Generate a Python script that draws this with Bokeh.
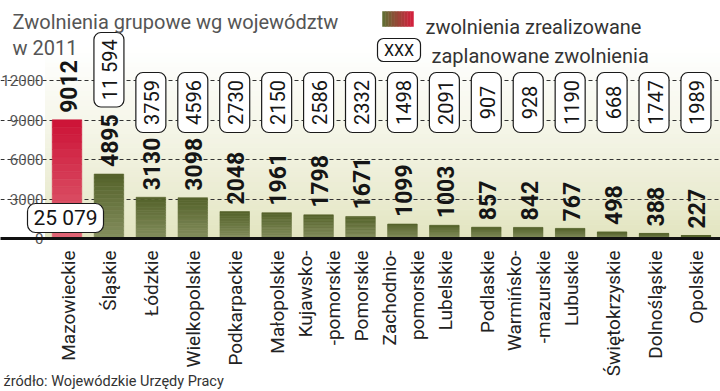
import math
from bokeh.plotting import figure
from bokeh.models import Range1d, FixedTicker, Grid
from bokeh.core.properties import value
from bokeh.embed import file_html
from bokeh.resources import INLINE

# ---------------- data ----------------
regions = ["Mazowieckie", "Śląskie", "Łódzkie", "Wielkopolskie", "Podkarpackie",
           "Małopolskie", "Kujawsko-\n-pomorskie", "Pomorskie", "Zachodnio-\npomorskie",
           "Lubelskie", "Podlaskie", "Warmińsko-\n-mazurskie", "Lubuskie",
           "Świętokrzyskie", "Dolnośląskie", "Opolskie"]
realized = [9012, 4895, 3130, 3098, 2048, 1961, 1798, 1671, 1099, 1003, 857, 842,
            767, 498, 388, 227]
planned = [25079, 11594, 3759, 4596, 2730, 2150, 2586, 2332, 1498, 2091, 907, 928,
           1190, 668, 1747, 1989]
y_ticks = [0, 3000, 6000, 9000, 12000]
grid_ticks = [3000, 6000, 9000, 12000]

title_1 = "Zwolnienia grupowe wg województw"
title_2 = "w 2011"
legend_real = "zwolnienia zrealizowane"
legend_plan = "zaplanowane zwolnienia"
legend_box = "XXX"
source_txt = "źródło: Wojewódzkie Urzędy Pracy"

# ---------------- geometry (page pixels; the page has no body margin) ----------------
W, H = 720, 391
PAGE_L, PAGE_T = 0, 0
BASE_Y = 238.0          # page y of value 0
STEP = 41.93            # px between category centres
FIRST_CENTER = 66.5     # page x of first category
PXY = 158.0 / 12000     # px per unit
BAR_W = 29.5
PLOT_L = 45.0           # left edge of plotting area (page px)

x0 = -(FIRST_CENTER - PAGE_L) / STEP
x1 = x0 + W / STEP
y0 = -(PAGE_T + H - BASE_Y) / PXY
y1 = (BASE_Y - PAGE_T) / PXY


def dx(px):
    return x0 + (px - PAGE_L) / STEP


def dy(py):
    return (BASE_Y - py) / PXY


def mix(c1, c2, t):
    return "#%02x%02x%02x" % tuple(int(round(a + (b - a) * t)) for a, b in zip(c1, c2))


def fmt(v):
    return f"{v:,}".replace(",", " ") if v >= 10000 else str(v)


SANS = "Roboto"

p = figure(width=W, height=H, output_backend="svg", toolbar_location=None,
           x_range=Range1d(x0, x1), y_range=Range1d(y0, y1),
           x_axis_location=None, y_axis_location=None,
           min_border=0)
p.outline_line_color = None
p.background_fill_color = "white"
p.border_fill_color = "white"
p.xgrid.visible = False
p.ygrid.visible = False

# ---------------- background gradient ----------------
nb = 40
bg_top = 14500
bb = [bg_top * k / nb for k in range(nb)]
bt = [bg_top * (k + 1) / nb for k in range(nb)]
bcols = [mix((225, 227, 189), (255, 255, 255), ((k + 0.5) / nb) ** 0.8) for k in range(nb)]
p.quad(left=dx(PLOT_L), right=x1, bottom=bb, top=bt, fill_color=bcols,
       line_color=bcols, level="image")

# ---------------- grid lines and baseline ----------------
grid = Grid(dimension=1, ticker=FixedTicker(ticks=grid_ticks),
            bounds=(dx(PLOT_L - 1), x1), grid_line_color="#333333",
            grid_line_dash="4 3", grid_line_width=1.2)
p.add_layout(grid)
base = Grid(dimension=1, ticker=FixedTicker(ticks=[0]), bounds=(dx(PLOT_L), dx(712)),
            grid_line_color="#111111", grid_line_width=3, level="annotation")
p.add_layout(base)

# y tick labels
p.text(x=[dx(43)] * len(y_ticks), y=y_ticks, text=[str(t) for t in y_ticks],
       text_align="right", text_baseline="middle", text_font=value(SANS),
       text_font_size="15px", text_color="#555555")

# ---------------- bars with vertical gradient ----------------
OLIVE_TOP, OLIVE_BOT = (84, 98, 42), (132, 142, 94)
RED_TOP, RED_BOT = (204, 18, 54), (224, 102, 118)
ns = 16
sx, sb, st, sc = [], [], [], []
for i, v in enumerate(realized):
    ctop, cbot = (RED_TOP, RED_BOT) if i == 0 else (OLIVE_TOP, OLIVE_BOT)
    for k in range(ns):
        sx.append(i)
        sb.append(v * k / ns)
        st.append(v * (k + 1) / ns)
        sc.append(mix(cbot, ctop, (k + 0.5) / ns))
p.vbar(x=sx, bottom=sb, top=st, width=BAR_W / STEP, fill_color=sc, line_color=sc,
       line_width=0.6)

idx = list(range(len(regions)))

# value labels
p.text(x=idx, y=realized, text=[str(v) for v in realized], angle=math.pi / 2,
       text_align="left", text_baseline="middle", y_offset=-7, x_offset=1,
       text_font=value(SANS), text_font_style="bold", text_font_size="23px",
       text_color="#151515")

# category labels
p.text(x=idx, y=[0] * len(idx), text=regions, angle=math.pi / 2,
       text_align="right", text_baseline="middle", y_offset=12, x_offset=1,
       text_font=value(SANS), text_font_size="19px", text_color="#222222",
       text_line_height=1.25)

# ---------------- planned boxes ----------------
bw = 30 / STEP
rest = idx[2:]
p.vbar(x=rest, bottom=dy(132), top=dy(72), width=bw, fill_color="white",
       line_color="#1a1a1a", line_width=1.2, border_radius=7)
p.text(x=rest, y=(dy(132) + dy(72)) / 2, text=[fmt(planned[i]) for i in rest],
       angle=math.pi / 2, text_align="center", text_baseline="middle", x_offset=1,
       text_font=value(SANS), text_font_size="20px", text_color="#151515")
# Śląskie (tall box)
p.vbar(x=[1], bottom=dy(106.5), top=dy(32), width=bw, fill_color="white",
       line_color="#1a1a1a", line_width=1.2, border_radius=7)
p.text(x=[1], y=(dy(106.5) + dy(32)) / 2, text=[fmt(planned[1])], angle=math.pi / 2,
       text_align="center", text_baseline="middle", x_offset=1,
       text_font=value(SANS), text_font_size="20px", text_color="#151515")
# Mazowieckie (horizontal box)
p.quad(left=dx(27), right=dx(103), bottom=dy(232), top=dy(203), fill_color="white",
       line_color="#1a1a1a", line_width=1.2, border_radius=8)
p.text(x=[dx(65)], y=[dy(217.5)], text=[fmt(planned[0])], text_align="center",
       text_baseline="middle", text_font=value(SANS), text_font_size="21px",
       text_color="#151515")

# ---------------- title, legend, source ----------------
p.text(x=[dx(12), dx(12)], y=[dy(21), dy(47)], text=[title_1, title_2],
       text_baseline="alphabetic", text_font=value(SANS), text_font_size="20px",
       text_color="#555555")

# gradient swatch
nsw = 10
sw_l, sw_r = dx(382), dx(413)
swl = [sw_l + (sw_r - sw_l) * k / nsw for k in range(nsw)]
swr = [sw_l + (sw_r - sw_l) * (k + 1) / nsw for k in range(nsw)]
swc = [mix((92, 112, 50), (214, 30, 62), ((k + 0.5) / nsw)) for k in range(nsw)]
p.quad(left=swl, right=swr, bottom=dy(26), top=dy(11), fill_color=swc, line_color=swc,
       line_width=0.5)
p.quad(left=dx(377), right=dx(420), bottom=dy(61), top=dy(38), fill_color="white",
       line_color="#1a1a1a", line_width=1.2, border_radius=6)
p.text(x=[dx(398.5)], y=[dy(49.5)], text=[legend_box], text_align="center",
       text_baseline="middle", text_font=value(SANS), text_font_size="16px",
       text_color="#151515")
p.text(x=[dx(425), dx(431)], y=[dy(26.5), dy(55)], text=[legend_real, legend_plan],
       text_baseline="alphabetic", text_font=value(SANS), text_font_size="20px",
       text_color="#333333")

p.text(x=[dx(3)], y=[dy(381)], text=[source_txt], text_baseline="alphabetic",
       text_font=value(SANS), text_font_size="14.5px", text_color="#333333")

open("out.html", "w").write(file_html(p, INLINE))
